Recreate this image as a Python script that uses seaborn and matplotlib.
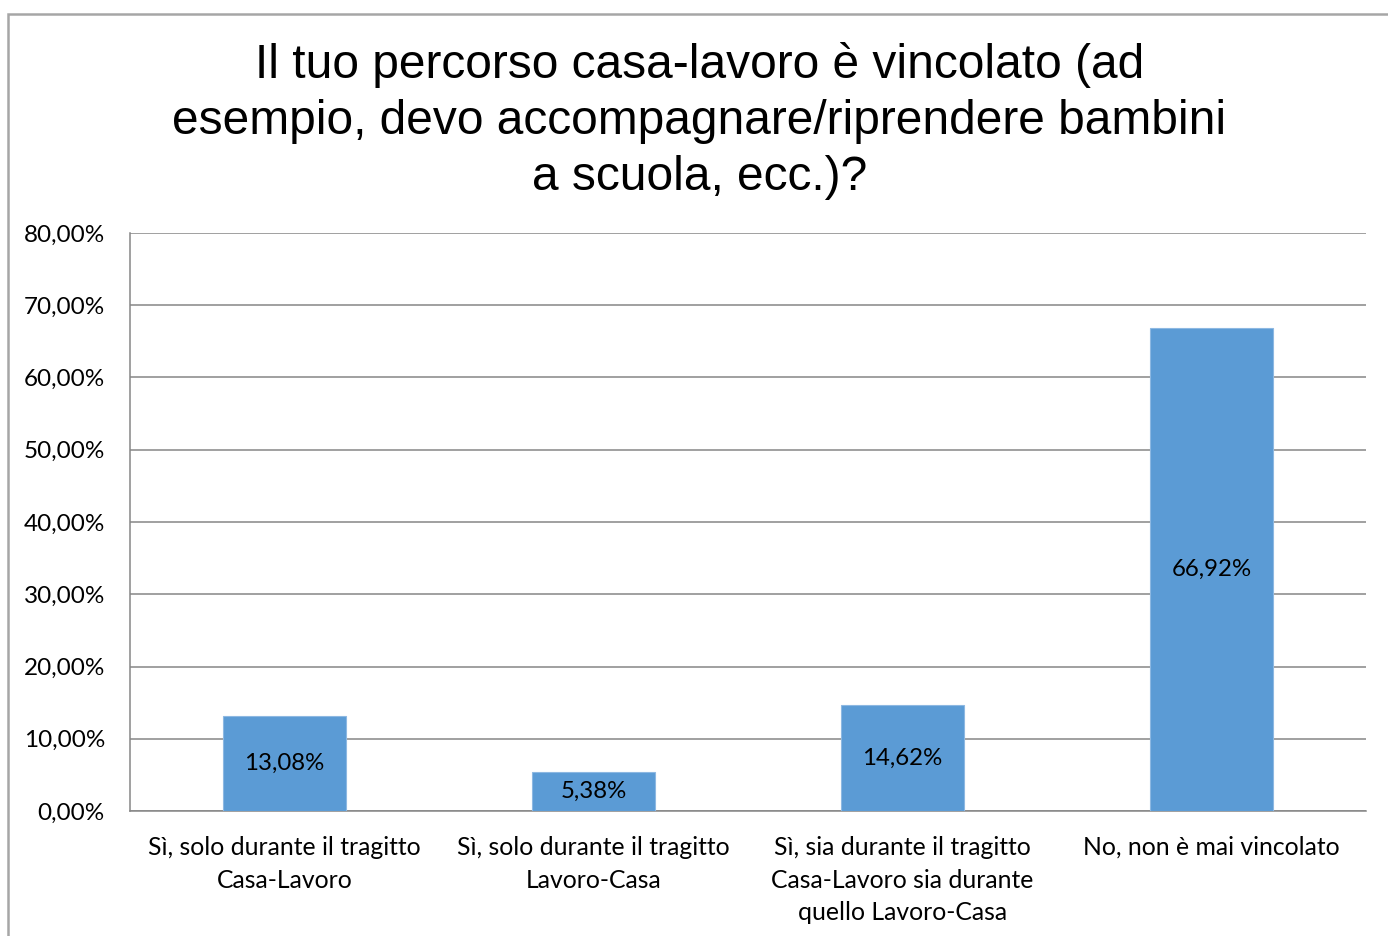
import matplotlib
matplotlib.use("Agg")
import matplotlib.pyplot as plt
from matplotlib.patches import Rectangle
import seaborn as sns

# survey answers and shares (%)
categories = [
    "Sì, solo durante il tragitto\nCasa-Lavoro",
    "Sì, solo durante il tragitto\nLavoro-Casa",
    "Sì, sia durante il tragitto\nCasa-Lavoro sia durante\nquello Lavoro-Casa",
    "No, non è mai vincolato",
]
shares = [13.08, 5.38, 14.62, 66.92]
y_ticks = [0, 10, 20, 30, 40, 50, 60, 70, 80]

title = ("Il tuo percorso casa-lavoro è vincolato (ad\n"
         "esempio, devo accompagnare/riprendere bambini\n"
         "a scuola, ecc.)?")

sns.set_style("white")
plt.rcParams["font.family"] = ["Lato", "DejaVu Sans"]
plt.rcParams["text.color"] = "black"
plt.rcParams["xtick.labelcolor"] = "black"
plt.rcParams["ytick.labelcolor"] = "black"

fig = plt.figure(figsize=(13.88, 9.36), dpi=100)
ax = fig.add_axes([130 / 1388, 1 - 811 / 936, 1236 / 1388, 578 / 936])

sns.barplot(x=categories, y=shares, color="#5B9BD5", width=0.4,
            saturation=1, edgecolor="#8DB8E2", linewidth=0.8, ax=ax, zorder=3)

# labels in the middle of each bar
for patch, val in zip(ax.patches, shares):
    ax.text(patch.get_x() + patch.get_width() / 2, val / 2,
            f"{val:.2f}%".replace(".", ","), ha="center", va="center",
            fontsize=17.3, color="black", zorder=4)

ax.set_ylim(0, 80)
ax.set_xlim(-0.5, len(categories) - 0.5)
ax.set_yticks(y_ticks)
ax.set_yticklabels([f"{t:.2f}%".replace(".", ",") for t in y_ticks], fontsize=17.5)
ax.yaxis.grid(True, color="#868686", linewidth=1.1, zorder=0)
ax.set_axisbelow(True)

# category ticks sit on the boundaries, labels in the middle
ax.set_xticks([i - 0.5 for i in range(len(categories) + 1)], minor=False)
ax.set_xticklabels([])
ax.set_xticks(range(len(categories)), minor=True)
ax.set_xticklabels(categories, minor=True, fontsize=17.8, linespacing=1.5)
ax.tick_params(axis="x", which="major", length=7, width=1.1, color="#868686", direction="out")
ax.tick_params(axis="x", which="minor", length=0, pad=18)
ax.tick_params(axis="y", length=7, width=1.1, color="#868686", pad=11)

for side in ["top", "right"]:
    ax.spines[side].set_visible(False)
for side in ["left", "bottom"]:
    ax.spines[side].set_color("#868686")
    ax.spines[side].set_linewidth(1.1)

fig.text(0.504, 1 - 121 / 936, title, ha="center", va="center", color="black",
         fontsize=34.5, family=["Liberation Sans", "DejaVu Sans"], linespacing=1.3)

# chart area border (cut off at right and bottom in the original)
fig.patches.append(Rectangle((8 / 1388, -0.1), 1.2, 1 - 14 / 936 + 0.1,
                             transform=fig.transFigure, fill=False,
                             edgecolor="#A6A6A6", linewidth=1.8))

fig.savefig("out.png", dpi=100)
